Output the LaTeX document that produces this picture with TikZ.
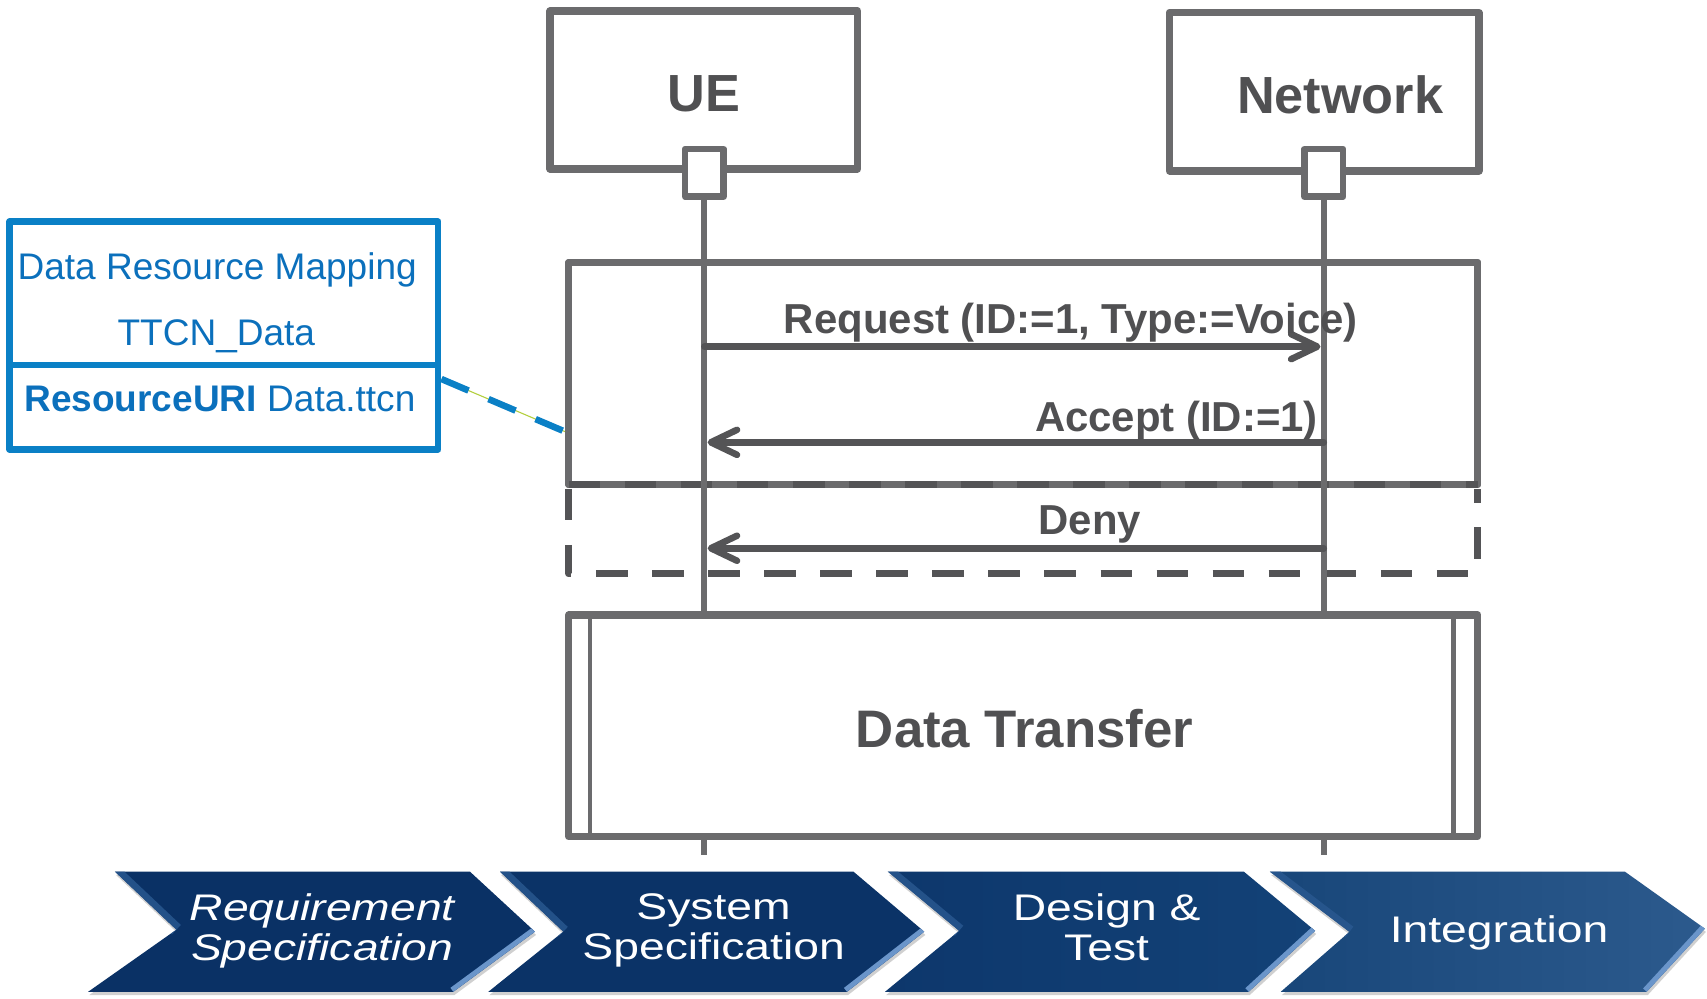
\documentclass[tikz,border=0pt]{standalone}
\usepackage{fontspec}
\setmainfont{Liberation Sans}
\newfontfamily\chevfont[FakeStretch=1.25]{Liberation Sans}
\usetikzlibrary{arrows.meta,calc}

\definecolor{boxgray}{HTML}{6B6B6D}
\definecolor{inkgray}{HTML}{545456}
\definecolor{txtgray}{HTML}{505052}
\definecolor{mapblue}{HTML}{0A80C6}
\definecolor{maptext}{HTML}{0B70BC}
\definecolor{linkgreen}{HTML}{B3CF3C}
\definecolor{navyA}{HTML}{0A3165}
\definecolor{navyB}{HTML}{0B3367}
\definecolor{navyCl}{HTML}{0D376C}
\definecolor{navyCr}{HTML}{134277}
\definecolor{navyDl}{HTML}{184679}
\definecolor{navyDr}{HTML}{2C5A8D}
\definecolor{bevelhi}{HTML}{6A95CA}
\definecolor{bevello}{HTML}{2A5991}

% one arrow-shaped process step: TL, TR, tip, BR, BL, notch, fill options
\newcommand\drawchev[7]{%
  \fill[gray!60, opacity=.6, yshift=-3pt, xshift=1pt] #1 -- #2 -- #3 -- #4 -- #5 -- #6 -- cycle;
  \path[#7] #1 -- #2 -- #3 -- #4 -- #5 -- #6 -- cycle;
  \begin{scope}
    \clip #1 -- #2 -- #3 -- #4 -- #5 -- #6 -- cycle;
    \draw[bevello, line width=12pt, opacity=.8] #1 -- #6;
    \draw[bevelhi, line width=9pt] #3 -- #4;
  \end{scope}}

\begin{document}
\begin{tikzpicture}[x=1pt, y=-1pt, line join=round,
  actorbox/.style={draw=boxgray, line width=7pt, fill=white, inner sep=0pt, outer sep=0pt},
  portbox/.style={draw=boxgray, line width=6pt, fill=white, inner sep=0pt, outer sep=0pt,
    minimum width=35.5pt, minimum height=43.8pt},
  lifeline/.style={draw=boxgray, line width=5.5pt},
  msg/.style={draw=inkgray, line width=6pt, line cap=round,
    -{Straight Barb[length=24pt, width=23pt, round]}},
  msglabel/.style={text=txtgray, font=\fontsize{38.5}{44}\selectfont\bfseries, anchor=base, inner sep=0pt},
  actorlabel/.style={text=txtgray, font=\fontsize{48}{56}\selectfont\bfseries, anchor=base, inner sep=0pt},
  framebox/.style={draw=boxgray, line width=6.5pt, inner sep=0pt, outer sep=0pt},
  dashframe/.style={draw=inkgray, line width=6.5pt, dash pattern=on 29pt off 22.5pt},
  mapbox/.style={draw=mapblue, line width=6pt, inner sep=0pt, fill=white},
  maplabel/.style={text=maptext, font=\fontsize{34}{40}\selectfont, anchor=base, inner sep=0pt},
  chevlabel/.style={text=white, font=\chevfont\fontsize{34}{37}\selectfont, align=center,
    anchor=north, inner sep=0pt}
]
\fill[white] (0,0) rectangle (1568,917);
\useasboundingbox (0,0) rectangle (1568,917);

% data resource mapping class box
\node[mapbox, minimum width=393.7pt, minimum height=209.1pt] (map) at (205.65,308.15) {};
\draw[mapblue, line width=6pt] (8.8,335.3) -- (402.5,335.3);
\node[maplabel] (maptitle) at (199.5,257.2) {Data Resource Mapping};
\node[maplabel] (mapname) at (198.7,317) {TTCN\_Data};
\node[maplabel] (mapattr) at (202,378) {{\bfseries ResourceURI} Data.ttcn};

% alternative fragment (solid upper part)
\node[framebox, minimum width=835.1pt, minimum height=203.7pt] (alt) at (939.95,343.15) {};

% association from the mapping box to the fragment
\coordinate (mapout) at ($(map.south east)!0.314!(map.north east)$);
\coordinate (altin) at ($(alt.south west)!0.231!(alt.north west)$);
\draw[linkgreen, line width=1pt] (mapout) -- (altin);
\draw[mapblue, line width=6pt, dash pattern=on 27pt off 20pt] (mapout) -- (altin);
\node[framebox, minimum width=835.1pt, minimum height=203.7pt] at (alt.center) {};

% operand separator and dashed lower operand
\draw[inkgray, line width=6.5pt, dash pattern=on 29pt off 22.5pt] (alt.south west) -- (alt.south east);
\draw[dashframe] ($(alt.south west)+(0,4)$) -- ++(0,78) -| ($(alt.south east)+(0,4)$);

% actors
\node[actorbox, minimum width=282.3pt, minimum height=144.9pt] (ue) at (646.55,82.55) {};
\node[actorbox, minimum width=284.1pt, minimum height=145.2pt] (nw) at (1216.25,84.2) {};
\node[actorlabel] (uelbl) at (646.6,102.6) {UE};
\node[actorlabel] (nwlbl) at (1231,104) {Network};
\node[portbox] (uep) at (647,158.8) {};
\node[portbox] (nwp) at (1216,158.8) {};

% lifelines
\coordinate (ueend) at (647,785);
\coordinate (nwend) at (1216,785);
\draw[lifeline] (uep.south) -- (ueend);
\draw[lifeline] (nwp.south) -- (nwend);

% messages
\coordinate (ueM1) at (647,318.4);  \coordinate (nwM1) at (1213,318.4);
\coordinate (nwM2) at (1216,406.3); \coordinate (ueM2) at (650,406.3);
\coordinate (nwM3) at (1216,503.6); \coordinate (ueM3) at (650,503.6);
\draw[msg] (ueM1) -- (nwM1);
\draw[msg] (nwM2) -- (ueM2);
\draw[msg] (nwM3) -- (ueM3);
\node[msglabel] (req) at (983.6,306) {Request (ID:=1, Type:=Voice)};
\node[msglabel] (acc) at (1080.7,396.5) {Accept (ID:=1)};
\node[msglabel] (deny) at (1001.2,491.4) {Deny};

% data transfer reference
\node[framebox, fill=white, minimum width=835.1pt, minimum height=203.6pt] (dt) at (939.95,666.7) {};
\draw[boxgray, line width=4pt] ($(dt.north west)+(19.3,0)$) -- ($(dt.south west)+(19.3,0)$);
\draw[boxgray, line width=4pt] ($(dt.north east)+(-22.5,0)$) -- ($(dt.south east)+(-22.5,0)$);
\node[text=txtgray, font=\fontsize{48.5}{56}\selectfont\bfseries, anchor=base, inner sep=0pt] (dtlbl)
  at (941.2,686.5) {Data Transfer};

% process steps
\drawchev{(105.6,800.7)}{(431.7,800.7)}{(491.4,855.8)}{(416.4,911)}{(81,911)}{(162,854)}{fill=navyA}
\drawchev{(459.3,800.7)}{(784,800.7)}{(849,855.8)}{(778,911)}{(448.6,911)}{(517.4,855.8)}{fill=navyB}
\drawchev{(815.6,800.7)}{(1142.6,800.7)}{(1208,855)}{(1147,911)}{(813,911)}{(881,855)}{left color=navyCl, right color=navyCr}
\drawchev{(1166.5,800.7)}{(1492.6,800.7)}{(1566,853)}{(1512.6,911)}{(1176.5,911)}{(1239.5,856)}{left color=navyDl, right color=navyDr}

\node[chevlabel, font=\chevfont\fontsize{34}{37}\selectfont\itshape] (step1) at (296,820.5) {Requirement\\Specification};
\node[chevlabel] (step2) at (655.5,820.5) {System\\Specification};
\node[chevlabel] (step3) at (1016.5,820.5) {Design \&\\Test};
\node[chevlabel] (step4) at (1377,840.5) {Integration};
\end{tikzpicture}
\end{document}
